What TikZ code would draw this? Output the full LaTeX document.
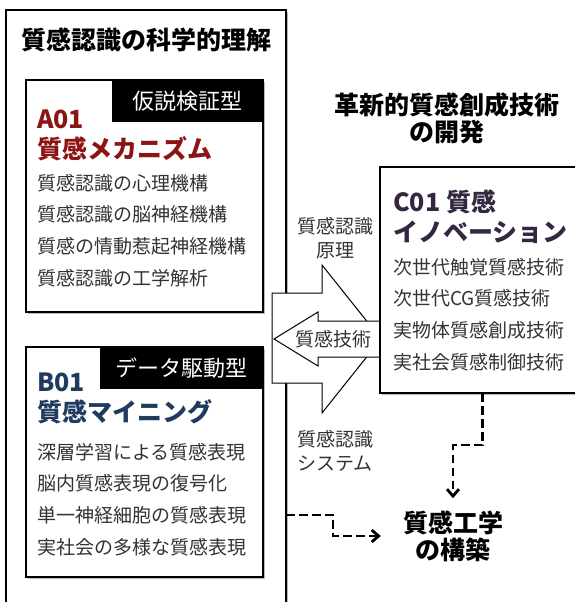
\documentclass[tikz,border=0pt]{standalone}
\usepackage{fontspec}
\setmainfont{Noto Sans CJK JP}
\usetikzlibrary{positioning, shadows, arrows.meta}
\definecolor{aRed}{HTML}{8B1414}
\definecolor{bNavy}{HTML}{1F3B5E}
\definecolor{cPurple}{HTML}{352741}
\definecolor{itemGray}{HTML}{333333}
\tikzset{
	panel/.style={
		draw, fill=white, line width=1.2pt,
		drop shadow={shadow xshift=2pt, shadow yshift=-2pt, fill=black!60, opacity=0.45},
		anchor=north west, inner sep=0pt, outer sep=0pt
	},
	tag/.style={
		fill=black, text=white, anchor=north east,
		font=\fontsize{22pt}{26pt}\selectfont,
		inner sep=0pt, outer sep=0pt
	},
	heading/.style={
		anchor=north west, align=left, inner sep=0pt,
		font=\fontsize{25pt}{30pt}\selectfont\bfseries
	},
	items/.style={
		anchor=north west, align=left, inner sep=0pt, text=itemGray,
		font=\fontsize{19pt}{31.7pt}\selectfont
	},
	title/.style={
		align=center, inner sep=2pt,
		font=\fontsize{25pt}{27pt}\selectfont\bfseries
	},
	labe/.style={
		align=center, text=itemGray,
		font=\fontsize{19pt}{24pt}\selectfont
	},
	flow/.style={
		line width=2.8pt, dash pattern=on 8.5pt off 4.5pt,
		-{Straight Barb[length=7pt, width=12pt]}
	},
	bigarrow/.style={draw, fill=white, line width=1pt, line join=miter}
}

\begin{document}
\begin{tikzpicture}[x=1pt, y=-1pt]
\clip (0,0) rectangle (575,602);

% science side
\node (outer)[panel, minimum width=280pt, minimum height=620pt] at (6,10) {};
\node (scititle)[title] at (146,40) {質感認識の科学的理解};

\node (apanel)[panel, minimum width=237pt, minimum height=232pt] at (26,80) {};
\node (atag)[tag, minimum width=151pt, minimum height=42pt] at (apanel.north east) {仮説検証型};
\node (ahead)[heading, text=aRed] at (37,110) {A01\\質感メカニズム};
\node (aitems)[items] at (37,174) {質感認識の心理機構\\質感認識の脳神経機構\\質感の情動惹起神経機構\\質感認識の工学解析};

\node (bpanel)[panel, minimum width=237pt, minimum height=230pt] at (26,347) {};
\node (btag)[tag, minimum width=163pt, minimum height=42pt] at (bpanel.north east) {データ駆動型};
\node (bhead)[heading, text=bNavy] at (37,373) {B01\\質感マイニング};
\node (bitems)[items] at (37,443) {深層学習による質感表現\\脳内質感表現の復号化\\単一神経細胞の質感表現\\実社会の多様な質感表現};

% exchange arrows
\draw[bigarrow] (272,293) -- (322,293) -- (322,265) -- (381,339) -- (322,413) -- (322,383) -- (272,383) -- cycle;
\draw[bigarrow] (382,321) -- (318,321) -- (318,312) -- (274,339) -- (318,366) -- (318,357) -- (382,357) -- cycle;
\node (tech)[labe] at (333,339) {質感技術};
\node (principle)[labe] at (335,238) {質感認識\\原理};
\node (system)[labe] at (335,451) {質感認識\\システム};

% innovation side
\node (devtitle)[title] at (447,118) {革新的質感創成技術\\の開発};
\node (cpanel)[panel, minimum width=215pt, minimum height=226pt] at (380,167) {};
\node (chead)[heading, text=cPurple] at (393,190) {C01 質感\\イノベーション};
\node (citems)[items] at (393,258) {次世代触覚質感技術\\次世代CG質感技術\\実物体質感創成技術\\実社会質感制御技術};

% engineering
\node (eng)[title] at (453,536) {質感工学\\の構築};
\draw[flow, shorten >=10pt] ([xshift=-5pt]cpanel.south) -- ++(0,52) -| (eng.north);
\draw[flow] (outer.east |- 0,515) -- ++(47,0) |- ([xshift=-20pt]eng.west);

\end{tikzpicture}
\end{document}
